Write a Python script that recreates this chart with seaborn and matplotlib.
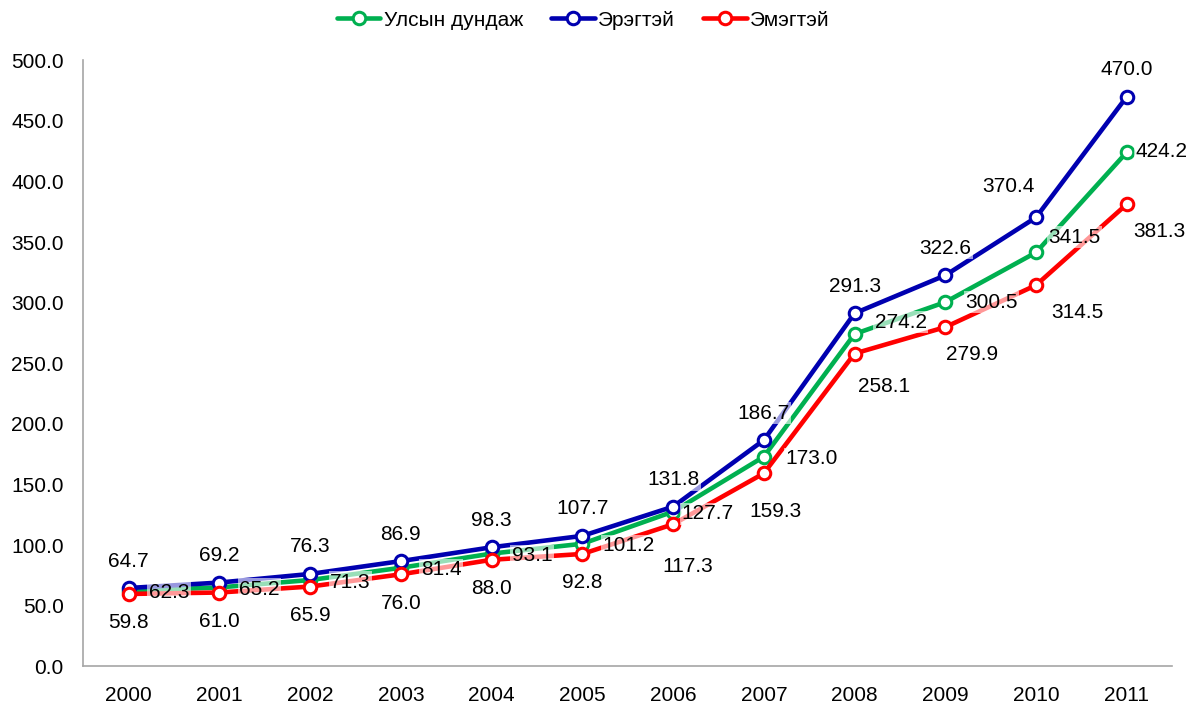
import pandas as pd
import matplotlib.pyplot as plt
import seaborn as sns

years = ['2000', '2001', '2002', '2003', '2004', '2005',
         '2006', '2007', '2008', '2009', '2010', '2011']
national = [62.3, 65.2, 71.3, 81.4, 93.1, 101.2, 127.7, 173.0, 274.2, 300.5, 341.5, 424.2]
male = [64.7, 69.2, 76.3, 86.9, 98.3, 107.7, 131.8, 186.7, 291.3, 322.6, 370.4, 470.0]
female = [59.8, 61.0, 65.9, 76.0, 88.0, 92.8, 117.3, 159.3, 258.1, 279.9, 314.5, 381.3]

names = ['Улсын дундаж', 'Эрэгтэй', 'Эмэгтэй']
colors = ['#00B050', '#0000B0', '#FF0000']

# label offsets in pixels (dx right, dy down), as placed in the original chart
male_off = [(0, -27)] * 10 + [(-28, -31), (0, -27)]
female_off = [(0, 29)] * 6 + [(15, 42), (12, 38), (29, 33), (27, 27), (41, 27), (33, 27)]
national_off = [(20, 2)] * 6 + [(8, 2), (22, 2), (20, -12), (20, 0), (12, -15), (9, -1)]

df = pd.DataFrame({'year': years * 3,
                   'value': national + male + female,
                   'series': [names[0]] * 12 + [names[1]] * 12 + [names[2]] * 12})

sns.set_style('white')
plt.rcParams['font.family'] = ['Liberation Sans', 'DejaVu Sans']
plt.rcParams['text.color'] = 'black'
plt.rcParams['xtick.color'] = 'black'
plt.rcParams['ytick.color'] = 'black'

fig, ax = plt.subplots(figsize=(11.9, 7.09), dpi=100)
sns.lineplot(data=df, x='year', y='value', hue='series', palette=colors,
             marker='o', markersize=9, markerfacecolor='white', markeredgewidth=2.2,
             linewidth=3.3, ax=ax, sort=False)
for line, c in zip(ax.lines, colors):
    line.set_markeredgecolor(c)

px = 0.72  # pixels -> points at dpi 100
box = dict(facecolor='white', edgecolor='none', alpha=0.6, pad=1)
for i in range(len(years)):
    dx, dy = male_off[i]
    ax.annotate(f'{male[i]:.1f}', (i, male[i]), xytext=(dx * px, -dy * px), textcoords='offset points',
                ha='center', va='center', fontsize=15, bbox=box, zorder=5)
    dx, dy = national_off[i]
    ax.annotate(f'{national[i]:.1f}', (i, national[i]), xytext=(dx * px, -dy * px), textcoords='offset points',
                ha='left', va='center', fontsize=15, bbox=box, zorder=5)
    dx, dy = female_off[i]
    ax.annotate(f'{female[i]:.1f}', (i, female[i]), xytext=(dx * px, -dy * px), textcoords='offset points',
                ha='center', va='center', fontsize=15, bbox=box, zorder=5)

ax.set_xlim(-0.5, 11.5)
ax.set_ylim(0, 500)
ax.set_yticks(range(0, 501, 50))
ax.set_yticklabels([f'{v:.1f}' for v in range(0, 501, 50)])
ax.set_xlabel('')
ax.set_ylabel('')
ax.tick_params(axis='both', labelsize=15, length=0, pad=14)
for s in ['top', 'right']:
    ax.spines[s].set_visible(False)
for s in ['left', 'bottom']:
    ax.spines[s].set_color('#A6A6A6')
    ax.spines[s].set_linewidth(1.2)

leg = ax.legend(loc='center', bbox_to_anchor=(0.49, 1 - 20 / 709), bbox_transform=fig.transFigure,
                ncol=3, frameon=False, fontsize=15, handlelength=2.1, handletextpad=0.15,
                columnspacing=1.35)
for h, c in zip(leg.legend_handles, colors):
    h.set_markeredgecolor(c)
    h.set_markerfacecolor('white')

plt.subplots_adjust(left=0.07, right=0.985, top=0.915, bottom=0.06)
plt.savefig('out.png')
